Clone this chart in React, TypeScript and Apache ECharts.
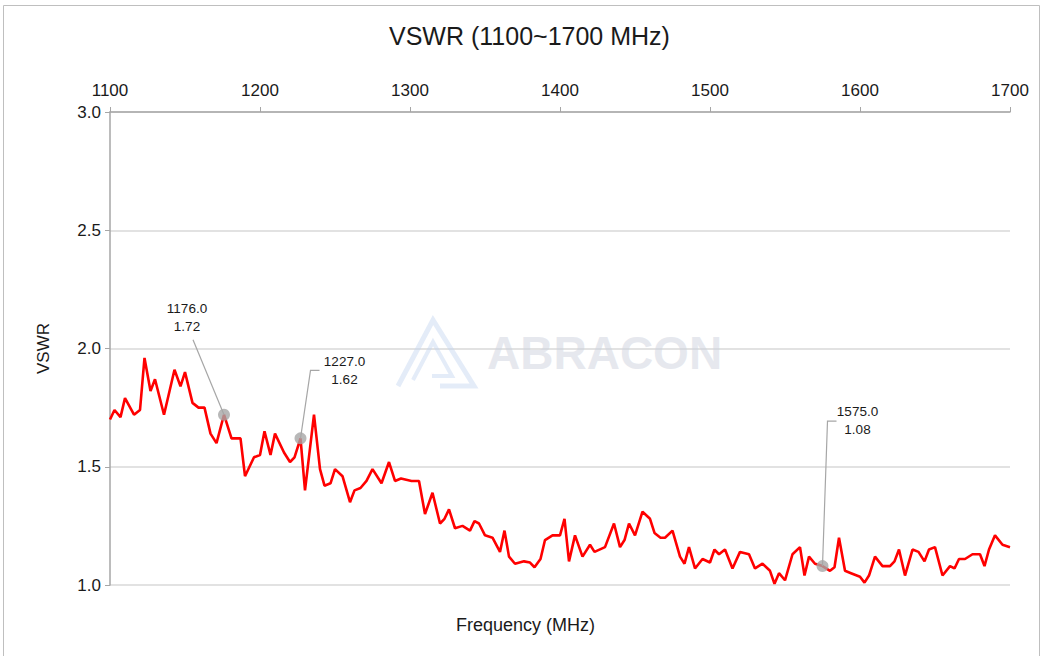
import React, { useEffect, useRef } from "react";
import * as echarts from "echarts";

const freqs = [
  1100, 1103, 1107, 1110, 1116, 1120, 1123, 1127, 1130, 1136, 1143, 1147, 1150, 1155, 1159, 1163, 1167, 1171, 1176, 1181,
  1187, 1190, 1196, 1200, 1203, 1207, 1210, 1216, 1220, 1223, 1227, 1230, 1236, 1240, 1243, 1247, 1250, 1255, 1260, 1263,
  1267, 1271, 1275, 1281, 1286, 1290, 1294, 1301, 1306, 1310, 1315, 1320, 1323, 1326, 1330, 1335, 1340, 1343, 1346, 1350,
  1355, 1360, 1363, 1366, 1370, 1376, 1380, 1383, 1387, 1390, 1395, 1400, 1403, 1406, 1410, 1415, 1420, 1423, 1430, 1436,
  1440, 1443, 1446, 1450, 1455, 1460, 1463, 1467, 1470, 1475, 1480, 1483, 1486, 1490, 1495, 1500, 1503, 1506, 1510, 1515,
  1520, 1526, 1530, 1535, 1540, 1543, 1546, 1550, 1555, 1560, 1563, 1566, 1570, 1575, 1580, 1583, 1586, 1590, 1594, 1600,
  1603, 1606, 1610, 1615, 1620, 1623, 1626, 1630, 1635, 1639, 1643, 1646, 1650, 1655, 1660, 1663, 1666, 1670, 1675, 1680,
  1683, 1686, 1690, 1695, 1700,
];

const vswr = [
  1.70, 1.74, 1.71, 1.79, 1.72, 1.74, 1.96, 1.82, 1.87, 1.72, 1.91, 1.84, 1.90, 1.77, 1.75, 1.75, 1.64, 1.60, 1.72, 1.62,
  1.62, 1.46, 1.54, 1.55, 1.65, 1.55, 1.64, 1.56, 1.52, 1.54, 1.62, 1.40, 1.72, 1.49, 1.42, 1.43, 1.49, 1.46, 1.35, 1.40,
  1.41, 1.44, 1.49, 1.43, 1.52, 1.44, 1.45, 1.44, 1.44, 1.30, 1.39, 1.26, 1.28, 1.32, 1.24, 1.25, 1.23, 1.27, 1.26, 1.21,
  1.20, 1.14, 1.23, 1.12, 1.09, 1.10, 1.095, 1.075, 1.11, 1.19, 1.21, 1.21, 1.28, 1.10, 1.21, 1.12, 1.17, 1.14, 1.16, 1.26,
  1.16, 1.19, 1.26, 1.21, 1.31, 1.28, 1.22, 1.20, 1.20, 1.23, 1.12, 1.09, 1.16, 1.07, 1.11, 1.095, 1.15, 1.13, 1.15, 1.07,
  1.14, 1.13, 1.07, 1.09, 1.06, 1.005, 1.05, 1.02, 1.13, 1.16, 1.04, 1.12, 1.09, 1.08, 1.06, 1.075, 1.20, 1.06, 1.05, 1.035,
  1.01, 1.04, 1.12, 1.08, 1.08, 1.10, 1.15, 1.04, 1.15, 1.14, 1.10, 1.15, 1.16, 1.04, 1.08, 1.07, 1.11, 1.11, 1.13, 1.13,
  1.08, 1.15, 1.21, 1.17, 1.16,
];

const markerFreqs = [1176, 1227, 1575];
const markerVals = [1.72, 1.62, 1.08];

const xTicks = [1100, 1200, 1300, 1400, 1500, 1600, 1700];

const FONT = "Liberation Sans, Arial, sans-serif";

export default function App() {
  const ref = useRef<HTMLDivElement>(null);

  useEffect(() => {
    if (!ref.current) return;
    const chart = echarts.init(ref.current, undefined, { renderer: "svg" });
    const lineData = freqs.map((f, i) => [f, vswr[i]]);
    const markerData = markerFreqs.map((f, i) => [f, markerVals[i]]);

    chart.setOption({
      animation: false,
      backgroundColor: "#ffffff",
      textStyle: { fontFamily: FONT },
      title: [
        {
          text: "VSWR (1100~1700 MHz)",
          left: 384,
          top: 18,
          textStyle: { fontFamily: FONT, fontSize: 25, fontWeight: "normal", color: "#1a1a1a" },
        },
        {
          text: "Frequency (MHz)",
          left: 451,
          top: 611,
          textStyle: { fontFamily: FONT, fontSize: 18, fontWeight: "normal", color: "#1a1a1a" },
        },
      ],
      grid: { left: 110, right: 35, top: 112, bottom: 71, containLabel: false },
      xAxis: {
        type: "value",
        position: "top",
        min: xTicks[0],
        max: xTicks[xTicks.length - 1],
        interval: 100,
        axisLine: { show: true, lineStyle: { color: "#a6a6a6", width: 1.5 } },
        axisTick: { show: true, length: 5, lineStyle: { color: "#a6a6a6" } },
        axisLabel: {
          fontFamily: FONT,
          fontSize: 17,
          color: "#1a1a1a",
          margin: 13,
          formatter: (v: number) => String(v),
        },
        splitLine: { show: false },
      },
      yAxis: {
        type: "value",
        min: 1,
        max: 3,
        interval: 0.5,
        name: "VSWR",
        nameLocation: "middle",
        nameGap: 58,
        nameTextStyle: { fontFamily: FONT, fontSize: 17, color: "#1a1a1a" },
        axisLine: { show: true, lineStyle: { color: "#a6a6a6", width: 1.5 } },
        axisTick: { show: true, length: 5, lineStyle: { color: "#a6a6a6" } },
        axisLabel: {
          fontFamily: FONT,
          fontSize: 17,
          color: "#1a1a1a",
          margin: 9,
          formatter: (v: number) => v.toFixed(1),
        },
        splitLine: { show: true, lineStyle: { color: "#d9d9d9", width: 1.5 } },
      },
      series: [
        {
          type: "line",
          data: lineData,
          showSymbol: false,
          symbol: "none",
          lineStyle: { color: "#ff0000", width: 2.6 },
          z: 3,
        },
        {
          type: "scatter",
          data: markerData,
          symbolSize: 12,
          itemStyle: { color: "#a6a6a6" },
          z: 5,
        },
      ],
    });

    const offsets = [
      { label: [-37, -97], leader: [[-31, -75]] },
      { label: [44, -68], leader: [[10, -68], [19, -68]] },
      { label: [35, -146], leader: [[5, -145], [14, -145]] },
    ];
    const graphics: any[] = [
      {
        type: "rect",
        shape: { x: 3.5, y: 5.5, width: 1036, height: 670 },
        style: { fill: "none", stroke: "#bfbfbf", lineWidth: 1 },
        silent: true,
        z: 0,
      },
      {
        type: "text",
        x: 487,
        y: 330,
        style: {
          text: "ABRACON",
          fontFamily: FONT,
          fontSize: 46,
          fontWeight: "bold",
          fill: "rgba(205,210,222,0.5)",
        },
        silent: true,
        z: 1,
      },
      {
        type: "polyline",
        shape: { points: [[398, 386], [433, 320], [474, 386], [440, 386]] },
        style: { fill: "none", stroke: "rgba(195,213,240,0.45)", lineWidth: 5 },
        silent: true,
        z: 1,
      },
      {
        type: "polyline",
        shape: { points: [[413, 380], [433, 342], [452, 376], [432, 376]] },
        style: { fill: "none", stroke: "rgba(195,213,240,0.45)", lineWidth: 4 },
        silent: true,
        z: 1,
      },
    ];
    markerFreqs.forEach((f, i) => {
      const p = chart.convertToPixel({ gridIndex: 0 }, [f, markerVals[i]]) as number[];
      const o = offsets[i];
      const pts = [[p[0], p[1]], ...o.leader.map((d) => [p[0] + d[0], p[1] + d[1]])];
      graphics.push({
        type: "polyline",
        shape: { points: pts },
        style: { fill: "none", stroke: "#a6a6a6", lineWidth: 1.2 },
        silent: true,
        z: 4,
      });
      graphics.push({
        type: "text",
        x: p[0] + o.label[0],
        y: p[1] + o.label[1],
        style: {
          text: f.toFixed(1) + "\n" + markerVals[i].toFixed(2),
          fontFamily: FONT,
          fontSize: 13.5,
          lineHeight: 18,
          fill: "#1a1a1a",
          align: "center",
          verticalAlign: "middle",
        },
        silent: true,
        z: 4,
      });
    });
    chart.setOption({ graphic: graphics });

    return () => chart.dispose();
  }, []);

  return (
    <div
      ref={ref}
      style={{ position: "absolute", left: 0, top: 0, width: 1045, height: 656 }}
    />
  );
}
